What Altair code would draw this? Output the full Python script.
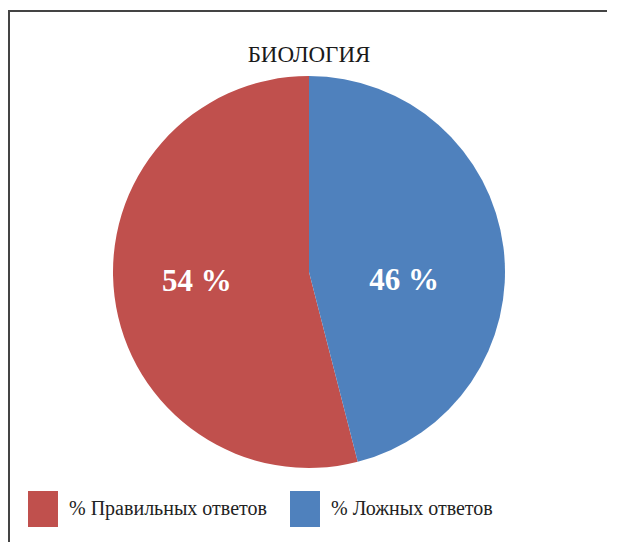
import altair as alt
import pandas as pd

title_text = "БИОЛОГИЯ"
categories = ["% Правильных ответов", "% Ложных ответов"]
values = [54, 46]
labels = ["54 %", "46 %"]
stack_order = [1, 0]
colors = ["#C0504D", "#4F81BD"]

df = pd.DataFrame({"cat": categories, "value": values, "label": labels, "ord": stack_order})

W, H = 596, 528
FONT = "Liberation Serif"

base = alt.Chart(df)

pie = base.mark_arc(radius=196, stroke=None).encode(
    theta=alt.Theta("value:Q", stack=True),
    order=alt.Order("ord:Q"),
    color=alt.Color(
        "cat:N",
        scale=alt.Scale(domain=categories, range=colors),
        legend=alt.Legend(
            title=None,
            orient="none",
            legendX=14,
            legendY=483,
            direction="horizontal",
            columns=2,
            symbolType="M-0.833,-1H0.833V1H-0.833Z",
            symbolSize=1296,
            symbolStrokeWidth=0,
            symbolOpacity=1,
            labelFont=FONT,
            labelFontSize=20,
            labelColor="#222222",
            labelOffset=8,
            labelLimit=400,
            columnPadding=20,
            padding=0,
        ),
    ),
)

def lab(idx, dx, dy):
    return base.transform_stack(
        stack="value", groupby=[], as_=["v0", "v1"], sort=[alt.SortField("ord")]
    ).transform_calculate(
        mid="(datum.v0 + datum.v1) / 2"
    ).transform_filter(alt.datum.ord == stack_order[idx]).mark_text(
        radius=100, font=FONT, fontSize=31, fontWeight="bold", color="white",
        dx=dx, dy=dy, baseline="middle", align="center",
    ).encode(
        theta=alt.Theta("mid:Q", scale=alt.Scale(domain=[0, sum(values)]), stack=None),
        text="label:N",
    )

lab_right = lab(1, -4, 22)
lab_left = lab(0, -13, -3)

title = alt.Chart(pd.DataFrame({"t": [title_text]})).mark_text(
    font=FONT, fontSize=23, color="#1a1a1a", baseline="middle", align="center"
).encode(text="t:N", x=alt.value(W / 2), y=alt.value(47))

border = alt.Chart(pd.DataFrame({"a": [0]})).mark_rect(
    fill=None, stroke="#444444", strokeWidth=2
).encode(
    x=alt.value(-2), x2=alt.value(W + 40), y=alt.value(3), y2=alt.value(H + 40)
)

chart = alt.layer(pie, lab_left, lab_right, title, border).properties(
    width=W, height=H,
    autosize=alt.AutoSizeParams(type="none"),
    padding={"left": 3, "top": 0, "right": 0, "bottom": 6},
    background="white",
).configure_view(stroke="transparent", strokeWidth=0)

chart.save("out.html", embed_options={"renderer": "svg", "actions": False})
